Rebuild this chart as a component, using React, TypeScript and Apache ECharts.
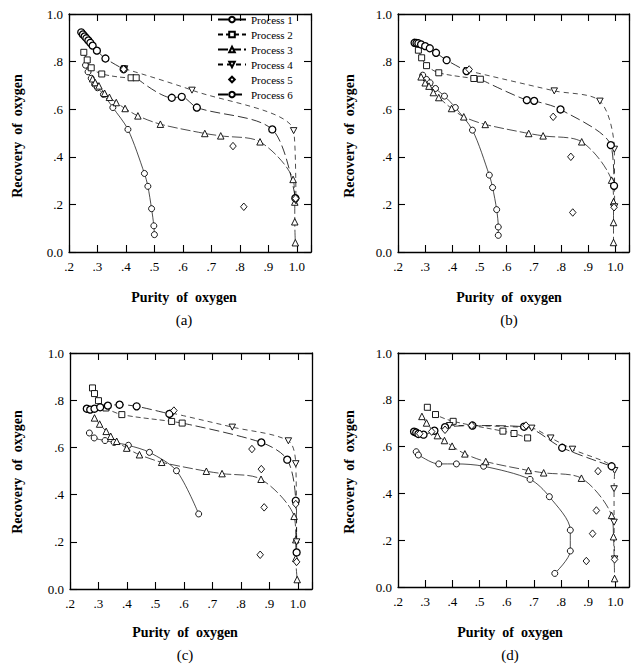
import React, { useEffect, useRef } from "react";
import * as echarts from "echarts";

const FONT = '"Liberation Serif", "Times New Roman", serif';

const processNames = ["Process 1", "Process 2", "Process 3", "Process 4", "Process 5", "Process 6"];
const xTickValues = [0.2, 0.3, 0.4, 0.5, 0.6, 0.7, 0.8, 0.9, 1.0];
const xTickLabels = [".2", ".3", ".4", ".5", ".6", ".7", ".8", ".9", "1.0"];
const yTickValues = [0, 0.2, 0.4, 0.6, 0.8, 1.0];
const yTickLabels = ["0.0", ".2", ".4", ".6", ".8", "1.0"];
const panelLabels = ["(a)", "(b)", "(c)", "(d)"];
const xTitle = "Purity  of  oxygen";
const yTitle = "Recovery  of  oxygen";

// ---------- panel (a) ----------
const aP1 = [[0.258,0.785],[0.267,0.757],[0.278,0.73],[0.29,0.705],[0.3,0.69],[0.321,0.662],[0.354,0.607],[0.407,0.515],[0.465,0.33],[0.477,0.276],[0.49,0.182],[0.498,0.11],[0.5,0.073]];
const aP2 = [[0.252,0.839],[0.264,0.807],[0.278,0.774],[0.315,0.748],[0.418,0.732],[0.436,0.732]];
const aP3 = [[0.283,0.728],[0.292,0.712],[0.305,0.698],[0.325,0.667],[0.342,0.65],[0.366,0.628],[0.397,0.603],[0.442,0.572],[0.521,0.537],[0.677,0.498],[0.733,0.488],[0.871,0.463],[0.987,0.305],[0.993,0.21],[0.993,0.127],[0.995,0.039]];
const aP4 = [[0.395,0.77],[0.632,0.68],[0.989,0.51],[0.997,0.215]];
const aP5 = [[0.392,0.768],[0.776,0.445],[0.814,0.19],[0.996,0.225]];
const aP6 = [[0.243,0.923],[0.249,0.914],[0.255,0.906],[0.261,0.898],[0.268,0.889],[0.275,0.879],[0.283,0.867],[0.298,0.846],[0.328,0.813],[0.392,0.768]];
const aP6tail = [[0.561,0.648],[0.596,0.652],[0.649,0.607],[0.914,0.515],[0.995,0.226]];

// ---------- panel (b) ----------
const bP1 = [[0.291,0.743],[0.305,0.725],[0.318,0.711],[0.338,0.687],[0.371,0.655],[0.411,0.607],[0.474,0.512],[0.536,0.323],[0.548,0.271],[0.563,0.178],[0.569,0.105],[0.569,0.07]];
const bP2 = [[0.275,0.848],[0.287,0.816],[0.305,0.783],[0.35,0.753],[0.479,0.729],[0.503,0.726]];
const bP3 = [[0.285,0.736],[0.3,0.711],[0.314,0.697],[0.33,0.67],[0.35,0.649],[0.397,0.603],[0.442,0.568],[0.521,0.536],[0.681,0.498],[0.734,0.488],[0.876,0.463],[0.986,0.302],[0.993,0.211],[0.993,0.124],[0.993,0.04]];
const bP4 = [[0.455,0.762],[0.775,0.677],[0.943,0.634],[0.996,0.432],[0.997,0.19]];
const bP5 = [[0.462,0.767],[0.771,0.568],[0.836,0.4],[0.843,0.166],[0.995,0.188]];
const bP6 = [[0.261,0.879],[0.268,0.878],[0.275,0.877],[0.285,0.872],[0.3,0.865],[0.317,0.856],[0.34,0.837],[0.379,0.806],[0.452,0.76]];
const bP6tail = [[0.674,0.638],[0.701,0.635],[0.798,0.599],[0.983,0.449],[0.995,0.278]];

// ---------- panel (c) ----------
const cP1 = [[0.268,0.661],[0.285,0.64],[0.323,0.629],[0.355,0.621],[0.405,0.609],[0.479,0.579],[0.574,0.501],[0.652,0.318]];
const cP2 = [[0.279,0.852],[0.286,0.828],[0.3,0.798],[0.326,0.767],[0.382,0.739],[0.557,0.71],[0.594,0.703]];
const cP3 = [[0.286,0.725],[0.304,0.699],[0.327,0.668],[0.343,0.647],[0.364,0.626],[0.399,0.597],[0.444,0.569],[0.522,0.537],[0.679,0.499],[0.734,0.489],[0.871,0.465],[0.987,0.308],[0.993,0.209],[0.993,0.13],[0.998,0.04]];
const cP4 = [[0.56,0.745],[0.77,0.686],[0.967,0.628],[0.993,0.531],[0.996,0.2]];
const cP5 = [[0.565,0.756],[0.839,0.593],[0.872,0.508],[0.882,0.346],[0.868,0.145],[0.993,0.36],[0.996,0.115]];
const cP6 = [[0.259,0.764],[0.271,0.76],[0.286,0.764],[0.306,0.77],[0.333,0.777],[0.374,0.781],[0.434,0.774],[0.549,0.742]];
const cP6tail = [[0.872,0.621],[0.963,0.548],[0.993,0.374],[0.996,0.155]];

// ---------- panel (d) ----------
const dP1 = [[0.267,0.578],[0.275,0.564],[0.35,0.526],[0.415,0.526],[0.515,0.516],[0.686,0.46],[0.757,0.386],[0.834,0.243],[0.834,0.154],[0.777,0.058]];
const dP2 = [[0.308,0.768],[0.338,0.737],[0.403,0.708],[0.586,0.666],[0.627,0.656],[0.677,0.637]];
const dP3 = [[0.288,0.729],[0.305,0.701],[0.345,0.647],[0.371,0.626],[0.399,0.602],[0.446,0.569],[0.523,0.536],[0.68,0.498],[0.736,0.488],[0.875,0.465],[0.986,0.306],[0.993,0.215],[0.997,0.036]];
const dP4 = [[0.39,0.69],[0.692,0.679],[0.762,0.637],[0.842,0.589],[0.997,0.498],[0.995,0.42],[0.995,0.277],[0.997,0.12]];
const dP5 = [[0.28,0.655],[0.324,0.664],[0.373,0.672],[0.471,0.69],[0.671,0.69],[0.936,0.495],[0.93,0.327],[0.916,0.228],[0.893,0.111],[0.997,0.118]];
const dP6 = [[0.259,0.664],[0.267,0.66],[0.275,0.654],[0.294,0.651],[0.334,0.668],[0.373,0.683],[0.474,0.69],[0.664,0.685],[0.804,0.595],[0.986,0.516]];
const dP6tail: number[][] = [];

const panels = [
  { p1: aP1, p2: aP2, p3: aP3, p4: aP4, p5: aP5, p6: aP6, tail: aP6tail },
  { p1: bP1, p2: bP2, p3: bP3, p4: bP4, p5: bP5, p6: bP6, tail: bP6tail },
  { p1: cP1, p2: cP2, p3: cP3, p4: cP4, p5: cP5, p6: cP6, tail: cP6tail },
  { p1: dP1, p2: dP2, p3: dP3, p4: dP4, p5: dP5, p6: dP6, tail: dP6tail },
];

// layout (pixels)
const grids = [
  { left: 69, top: 14, width: 242, height: 238 },
  { left: 398, top: 14, width: 239, height: 238 },
  { left: 70, top: 353, width: 242, height: 236 },
  { left: 398, top: 353, width: 239, height: 234 },
];
const xTitlePos = [[184, 297], [509, 297], [185, 632], [510, 632]];
const panelLabelPos = [[184, 320], [509, 320], [185, 655], [510, 655]];
const yTitlePos = [[17, 136], [349, 136], [17, 472], [349, 472]];

const DOWN_TRI = "path://M0,0L10,0L5,9Z";

function fmtX(v: number) {
  const i = xTickValues.findIndex((t) => Math.abs(t - v) < 1e-6);
  return i >= 0 ? xTickLabels[i] : "";
}
function fmtY(v: number) {
  const i = yTickValues.findIndex((t) => Math.abs(t - v) < 1e-6);
  return i >= 0 ? yTickLabels[i] : "";
}

export default function App() {
  const ref = useRef<HTMLDivElement>(null);
  useEffect(() => {
    document.body.style.margin = "0";
    if (!ref.current) return;
    const chart = echarts.init(ref.current, undefined, { renderer: "svg" });

    const axisLine = { show: true, onZero: false, lineStyle: { color: "#000", width: 1.3 } };
    const axisTick = { show: true, inside: true, length: 7, lineStyle: { color: "#000", width: 1.1 } };

    const xAxis: any[] = [];
    const yAxis: any[] = [];
    grids.forEach((_, i) => {
      xAxis.push({
        type: "value", gridIndex: i, position: "bottom", min: 0.2, max: 1.05, interval: 0.1,
        axisLine, axisTick, splitLine: { show: false },
        axisLabel: { formatter: fmtX, color: "#000", fontFamily: FONT, fontSize: 13, margin: 8 },
      });
      xAxis.push({
        type: "value", gridIndex: i, position: "top", min: 0.2, max: 1.05, interval: 0.1,
        axisLine, axisTick, splitLine: { show: false }, axisLabel: { show: false },
      });
      yAxis.push({
        type: "value", gridIndex: i, position: "left", min: 0, max: 1, interval: 0.2,
        axisLine, axisTick, splitLine: { show: false },
        axisLabel: { formatter: fmtY, color: "#000", fontFamily: FONT, fontSize: 13, margin: 6 },
      });
      yAxis.push({
        type: "value", gridIndex: i, position: "right", min: 0, max: 1, interval: 0.2,
        axisLine, axisTick, splitLine: { show: false }, axisLabel: { show: false },
      });
    });

    const series: any[] = [];
    panels.forEach((p, i) => {
      const common = {
        xAxisIndex: 2 * i, yAxisIndex: 2 * i, type: "line", smooth: 0.3,
        itemStyle: { color: "#fff", borderColor: "#000", borderWidth: 0.9 },
        emphasis: { disabled: true }, z: 3,
      };
      const p6Style = {
        symbol: "circle", symbolSize: 7,
        itemStyle: { color: "#fff", borderColor: "#000", borderWidth: 1.3 },
        lineStyle: { color: "#000", width: 0.8, type: [10, 4] },
      };
      series.push({ ...common, name: processNames[0], data: p.p1, symbol: "circle", symbolSize: 6,
        lineStyle: { color: "#000", width: 0.7, type: "solid" } });
      series.push({ ...common, name: processNames[1], data: p.p2, symbol: "rect", symbolSize: 6,
        lineStyle: { color: "#000", width: 0.7, type: [5, 3] } });
      series.push({ ...common, name: processNames[2], data: p.p3, symbol: "triangle", symbolSize: 6.5,
        lineStyle: { color: "#000", width: 0.7, type: [10, 3] } });
      series.push({ ...common, name: processNames[3], data: p.p4, symbol: DOWN_TRI, symbolSize: [6.5, 6],
        lineStyle: { color: "#000", width: 0.7, type: [5, 4] } });
      series.push({ ...common, name: processNames[4], data: p.p5, symbol: "diamond", symbolSize: [6.5, 7.5],
        lineStyle: { width: 0, opacity: 0 }, z: 4 });
      series.push({ ...common, ...p6Style, name: processNames[5], data: p.p6 });
      if (p.tail.length) {
        const start = p.p2[p.p2.length - 1];
        series.push({ ...common, ...p6Style, name: processNames[5],
          data: [{ value: start, symbol: "none" }, ...p.tail] });
      }
    });

    const graphic: any[] = [];
    const txt = (text: string, x: number, y: number, font: string, rotation = 0) => ({
      type: "text", x, y, rotation, silent: true,
      style: { text, font, fill: "#000", textAlign: "center", align: "center",
        textVerticalAlign: "middle", verticalAlign: "middle" },
    });
    grids.forEach((_, i) => {
      graphic.push(txt(xTitle, xTitlePos[i][0], xTitlePos[i][1], `bold 14px ${FONT}`));
      graphic.push(txt(panelLabels[i], panelLabelPos[i][0], panelLabelPos[i][1], `15px ${FONT}`));
      graphic.push(txt(yTitle, yTitlePos[i][0], yTitlePos[i][1], `bold 14px ${FONT}`, Math.PI / 2));
    });

    chart.setOption({
      animation: false,
      backgroundColor: "#fff",
      grid: grids.map((g) => ({ ...g, containLabel: false })),
      xAxis,
      yAxis,
      legend: {
        data: processNames, orient: "vertical", left: 217, top: 12, padding: 0,
        itemWidth: 28, itemHeight: 7, itemGap: 0, selectedMode: false,
        textStyle: { fontFamily: FONT, fontSize: 11, color: "#000", lineHeight: 15 },
      },
      series,
      graphic,
    });
    return () => chart.dispose();
  }, []);
  return <div ref={ref} style={{ width: 632, height: 670 }} />;
}
